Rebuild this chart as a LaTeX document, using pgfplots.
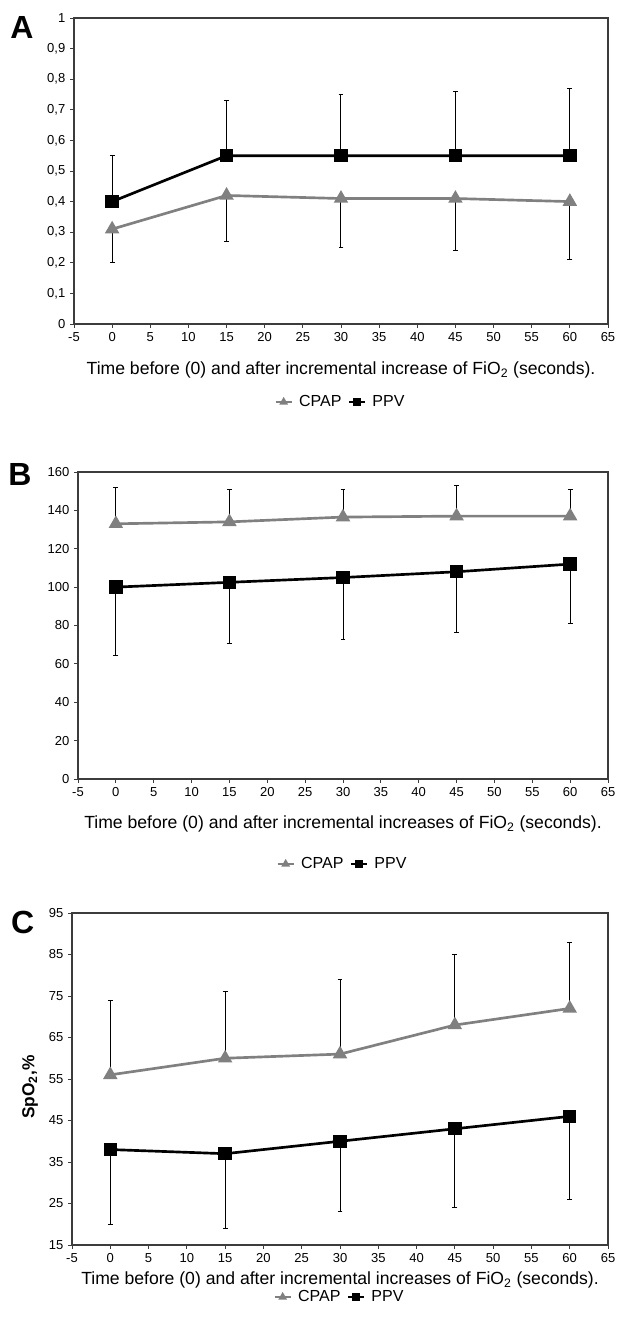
\documentclass[border=0pt]{standalone}
\usepackage{fontspec}
\setmainfont{Liberation Sans}
\usepackage{pgfplots}
\pgfplotsset{compat=1.18}

\definecolor{cpapgray}{RGB}{128,128,128}
\definecolor{framegray}{RGB}{60,60,60}

\pgfplotsset{
  panel/.style={
    scale only axis,
    anchor=south west,
    xmin=-5, xmax=65,
    xtick={-5,0,...,65},
    tick align=outside,
    xtick pos=bottom, ytick pos=left,
    major tick length=3pt,
    tick style={framegray, line width=0.6pt},
    axis line style={framegray, line width=0.9pt},
    ticklabel style={font=\fontsize{9.75}{11}\selectfont},
    /pgf/number format/assume math mode=true,
    xlabel style={font=\fontsize{13.2}{15}\selectfont, at={(axis description cs:0.5,0)}, anchor=center},
    legend style={draw=none, fill=none, legend columns=2, font=\fontsize{12}{14}\selectfont,
      anchor=center, at={(axis description cs:0.5,0)}, column sep=3pt},
    legend image code/.code={
      \draw[mark repeat=2, mark phase=2, #1, line width=1.2pt, mark size=2.6pt]
        plot coordinates {(0pt,0pt) (6pt,0pt) (12pt,0pt)};
    },
  },
  up/.style={error bars/.cd, y dir=plus, y explicit,
    error bar style={black, line width=0.75pt},
    error mark options={black, mark size=1.8pt, line width=0.75pt, rotate=90}},
  down/.style={error bars/.cd, y dir=minus, y explicit,
    error bar style={black, line width=0.75pt},
    error mark options={black, mark size=1.8pt, line width=0.75pt, rotate=90}},
  cpap/.style={cpapgray, line width=2pt, mark=triangle*, mark size=4.3pt,
    mark options={cpapgray, solid}},
  ppv/.style={black, line width=2pt, mark=square*, mark size=4pt,
    mark options={black, solid}},
}

\begin{document}
\begin{tikzpicture}
\useasboundingbox (0,0) rectangle (462.75pt,992.25pt);

% ---- A ----
\begin{axis}[panel,
  at={(55.5pt,749.25pt)}, width=400.5pt, height=229.5pt,
  ymin=0, ymax=1, ytick={0,0.1,...,1.01},
  yticklabel style={/pgf/number format/.cd, use comma, fixed, precision=1},
  xlabel={Time before (0) and after incremental increase of FiO\textsubscript{2} (seconds).},
  xlabel style={yshift=-34.5pt},
  legend style={yshift=-58.5pt},
]
\addplot+[cpap, down] table[x=t, y=m, y error=e] {
t  m    e
0  0.31 0.11
15 0.42 0.15
30 0.41 0.16
45 0.41 0.17
60 0.40 0.19
};
\addlegendentry{CPAP}
\addplot+[ppv, up] table[x=t, y=m, y error=e] {
t  m    e
0  0.40 0.15
15 0.55 0.18
30 0.55 0.20
45 0.55 0.21
60 0.55 0.22
};
\addlegendentry{PPV}
\end{axis}

% ---- B ----
\begin{axis}[panel,
  at={(58.5pt,408pt)}, width=397.5pt, height=230.25pt,
  ymin=0, ymax=160, ytick={0,20,...,160},
  xlabel={Time before (0) and after incremental increases of FiO\textsubscript{2} (seconds).},
  xlabel style={yshift=-33.75pt},
  legend style={yshift=-63.75pt},
]
\addplot+[cpap, up] table[x=t, y=m, y error=e] {
t  m     e
0  133   19
15 134   17
30 136.5 14.5
45 137   16
60 137   14
};
\addlegendentry{CPAP}
\addplot+[ppv, down] table[x=t, y=m, y error=e] {
t  m     e
0  100   35.5
15 102.5 32
30 105   32.5
45 108   31.5
60 112   31
};
\addlegendentry{PPV}
\end{axis}

% ---- C ----
\begin{axis}[panel,
  at={(54pt,58.5pt)}, width=402pt, height=249pt,
  ymin=15, ymax=95, ytick={15,25,...,95},
  xlabel={Time before (0) and after incremental increases of FiO\textsubscript{2} (seconds).},
  xlabel style={yshift=-26.25pt},
  legend style={yshift=-39pt},
]
\addplot+[cpap, up] table[x=t, y=m, y error=e] {
t  m  e
0  56 18
15 60 16
30 61 18
45 68 17
60 72 16
};
\addlegendentry{CPAP}
\addplot+[ppv, down] table[x=t, y=m, y error=e] {
t  m  e
0  38 18
15 37 18
30 40 17
45 43 19
60 46 20
};
\addlegendentry{PPV}
\end{axis}

% panel letters and y label
\node[font=\fontsize{24}{26}\selectfont\bfseries] at (16.5pt,971.25pt) {A};
\node[font=\fontsize{24}{26}\selectfont\bfseries] at (15pt,636pt) {B};
\node[font=\fontsize{24}{26}\selectfont\bfseries] at (17pt,300.75pt) {C};
\node[rotate=90, font=\fontsize{13}{15}\selectfont\bfseries] at (22.5pt,177pt) {SpO\textsubscript{2},\%};
\end{tikzpicture}
\end{document}
